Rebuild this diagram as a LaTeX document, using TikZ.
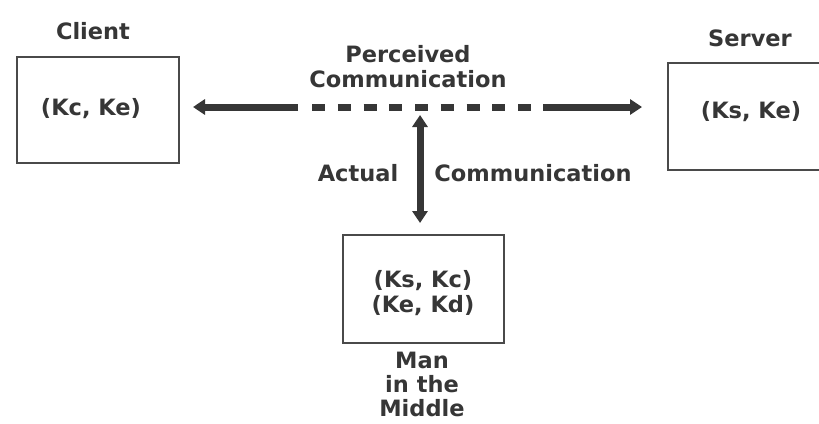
\documentclass[tikz,border=0pt]{standalone}
\usepackage{fontspec}
\setmainfont{DejaVu Sans}
\usetikzlibrary{arrows.meta}
\definecolor{ink}{HTML}{363636}
\definecolor{frame}{HTML}{4A4A4A}
\begin{document}
\begin{tikzpicture}[x=1pt,y=-1pt,
  lbl/.style={text=ink,font=\bfseries\fontsize{22.5}{25}\selectfont,align=center,inner sep=0pt},
  keybox/.style={draw=frame,line width=1.6pt,fill=white},
  fat/.style={draw=ink,line width=7pt},
  tip/.style={-{Triangle[length=12pt,width=15pt]}},
  dtip/.style={{Triangle[length=12pt,width=15pt]}-{Triangle[length=12pt,width=15pt]}}]
\useasboundingbox (0,0) rectangle (819,423);
\fill[white] (0,0) rectangle (819,423);

% parties
\draw[keybox] (17,57) rectangle (179,163);
\node[lbl] (client) at (93,31) {Client};
\node[lbl] (ckeys) at (91,109) {(Kc, Ke)};

\draw[keybox] (668,63) rectangle (835,170);
\node[lbl] (server) at (750,38) {Server};
\node[lbl] (skeys) at (751,112) {(Ks, Ke)};

\draw[keybox] (343,235) rectangle (504,343);
\node[lbl] (mkeys) at (423,293) {(Ks, Kc)\\(Ke, Kd)};
\node[lbl,font=\bfseries\fontsize{22.5}{24}\selectfont] (mitm) at (422,384) {Man\\in the\\Middle};

% perceived link
\coordinate (pl) at (298,107);
\coordinate (pr) at (543,107);
\coordinate (ptipl) at (193,107);
\coordinate (ptipr) at (642,107);
\draw[fat,tip] (pl) -- (ptipl);
\draw[fat,tip] (pr) -- (ptipr);
\draw[fat,dash pattern=on 13pt off 12.75pt] (312,107) -- (531,107);
\node[lbl] (perc) at (408,67) {Perceived\\Communication};

% actual link
\coordinate (at) at (420,115);
\coordinate (ab) at (420,223);
\draw[fat,dtip] (at) -- (ab);
\node[lbl] (actual) at (358,173) {Actual};
\node[lbl] (comm) at (533,173) {Communication};
\end{tikzpicture}
\end{document}
